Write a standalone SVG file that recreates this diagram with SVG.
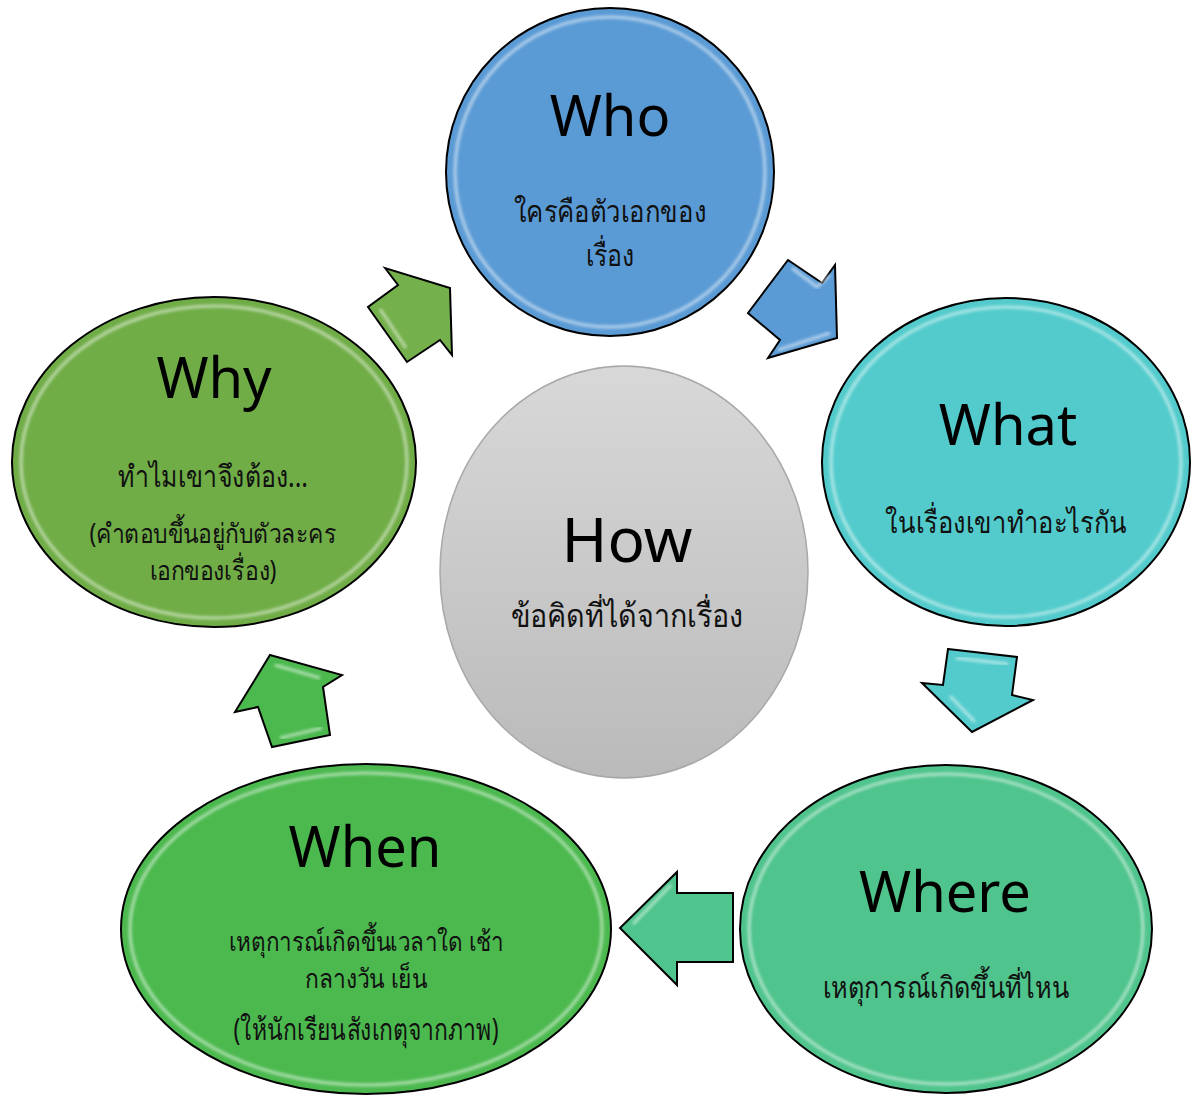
<svg xmlns="http://www.w3.org/2000/svg" width="1192" height="1102" viewBox="0 0 1192 1102">
<defs>
<style>
.node{stroke:#000;stroke-width:2}
.arr{stroke:#000;stroke-width:2;stroke-linejoin:miter}
.hl{fill:none;stroke:#fff;stroke-width:3;opacity:0.55;filter:url(#blur)}
.title{font-family:"Noto Sans","Open Sans",sans-serif;font-size:56px;fill:#000;text-anchor:middle}
.th{font-family:"Noto Sans","DejaVu Sans",sans-serif;font-size:30px;fill:#111;text-anchor:middle}
.tight{font-size:27px}
</style>
<filter id="blur" x="-10%" y="-10%" width="120%" height="120%"><feGaussianBlur stdDeviation="1.5"/></filter>
<linearGradient id="gray" x1="0" y1="0" x2="0" y2="1">
<stop offset="0" stop-color="#d8d8d8"/>
<stop offset="1" stop-color="#bababa"/>
</linearGradient>
</defs>
<rect width="1192" height="1102" fill="#fff"/>

<g id="connectors">
<g id="arrow-who-what">
<polygon class="arr" fill="#5b9bd5" points="788,260 822,283 835,265 837,338 768,358 780,340 748,313"/>
<polyline class="hl" points="792,268 817,287 830,275"/>
<polyline class="hl" points="778,350 830,333"/>
</g>
<g id="arrow-what-where">
<polygon class="arr" fill="#53cbcc" points="948,649 1017,657 1012,695 1033,700 972,732 922,683 943,685"/>
<polyline class="hl" points="956,658 1008,664"/>
<polyline class="hl" points="950,696 975,722"/>
</g>
<g id="arrow-where-when">
<polygon class="arr" fill="#4fc48c" points="677,872 677,893 733,893 733,962 677,962 677,985 620,928"/>
<polyline class="hl" points="671,885 633,924"/>
<polyline class="hl" points="725,905 725,952"/>
</g>
<g id="arrow-when-why">
<polygon class="arr" fill="#4cb94f" points="270,655 342,675 323,687 330,735 272,747 258,707 235,712"/>
<polyline class="hl" points="275,665 320,678"/>
<polyline class="hl" points="280,738 322,728"/>
</g>
<g id="arrow-why-who">
<polygon class="arr" fill="#74b04b" points="385,268 398,285 368,307 407,362 440,340 452,355 450,288"/>
<polyline class="hl" points="380,309 406,348"/>
<polyline class="hl" points="440,303 440,330"/>
</g>
</g>

<g id="node-who">
<ellipse class="node" cx="610" cy="172" rx="164" ry="164" fill="#5b9bd5"/>
<ellipse class="hl" cx="610" cy="172" rx="155" ry="155"/>
<text class="title" x="610" y="136">Who</text>
<text class="th" x="610" y="222" textLength="193" lengthAdjust="spacingAndGlyphs">ใครคือตัวเอกของ</text>
<text class="th" x="610" y="266" textLength="49" lengthAdjust="spacingAndGlyphs">เรื่อง</text>
</g>

<g id="node-what">
<ellipse class="node" cx="1006" cy="462" rx="184" ry="164" fill="#53cbcc"/>
<ellipse class="hl" cx="1006" cy="462" rx="175" ry="155"/>
<text class="title" x="1008" y="445">What</text>
<text class="th" x="1006" y="533" textLength="242" lengthAdjust="spacingAndGlyphs">ในเรื่องเขาทำอะไรกัน</text>
</g>

<g id="node-where">
<ellipse class="node" cx="946" cy="929" rx="206" ry="164" fill="#4fc48c"/>
<ellipse class="hl" cx="946" cy="929" rx="197" ry="155"/>
<text class="title" x="945" y="912">Where</text>
<text class="th" x="946" y="998" textLength="247" lengthAdjust="spacingAndGlyphs">เหตุการณ์เกิดขึ้นที่ไหน</text>
</g>

<g id="node-when">
<ellipse class="node" cx="366" cy="929" rx="245" ry="165" fill="#4cb94f"/>
<ellipse class="hl" cx="366" cy="929" rx="236" ry="156"/>
<text class="title" x="365" y="867">When</text>
<text class="th tight" x="366" y="951" textLength="275" lengthAdjust="spacingAndGlyphs">เหตุการณ์เกิดขึ้นเวลาใด เช้า</text>
<text class="th tight" x="366" y="988" textLength="122" lengthAdjust="spacingAndGlyphs">กลางวัน เย็น</text>
<text class="th" x="366" y="1040" textLength="265" lengthAdjust="spacingAndGlyphs">(ให้นักเรียนสังเกตุจากภาพ)</text>
</g>

<g id="node-why">
<ellipse class="node" cx="214" cy="462" rx="202" ry="165" fill="#70ad47"/>
<ellipse class="hl" cx="214" cy="462" rx="193" ry="156"/>
<text class="title" x="214" y="398">Why</text>
<text class="th" x="213" y="487" textLength="190" lengthAdjust="spacingAndGlyphs">ทำไมเขาจึงต้อง...</text>
<text class="th tight" x="213" y="543" textLength="247" lengthAdjust="spacingAndGlyphs">(คำตอบขึ้นอยู่กับตัวละคร</text>
<text class="th tight" x="213" y="580" textLength="127" lengthAdjust="spacingAndGlyphs">เอกของเรื่อง)</text>
</g>

<g id="node-how">
<ellipse cx="624" cy="572" rx="184" ry="206" fill="url(#gray)" stroke="#a8a8a8" stroke-width="1.5"/>
<text class="title" x="627" y="562" style="font-size:62px">How</text>
<text class="th" x="627" y="627" style="font-size:32px" textLength="233" lengthAdjust="spacingAndGlyphs">ข้อคิดที่ได้จากเรื่อง</text>
</g>
</svg>
